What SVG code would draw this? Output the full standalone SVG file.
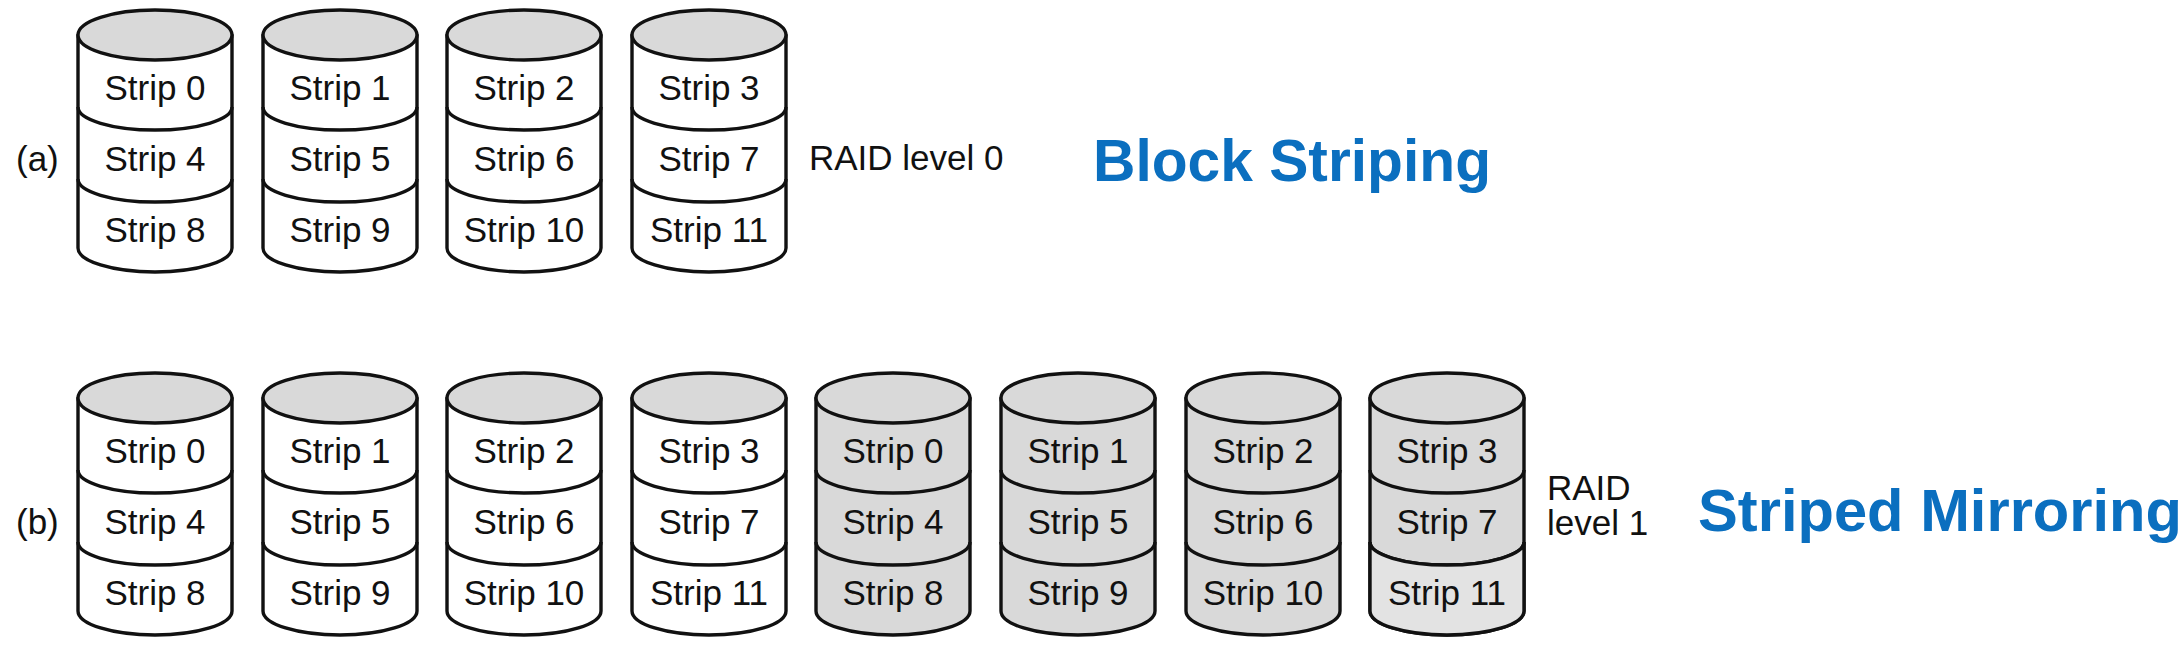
<svg xmlns="http://www.w3.org/2000/svg" xmlns:xlink="http://www.w3.org/1999/xlink" width="2184" height="646" viewBox="0 0 2184 646">
<style>
.s{font-family:"Liberation Sans",Arial,Helvetica,sans-serif;font-size:35px;fill:#111;text-anchor:middle}
.l{font-family:"Liberation Sans",Arial,Helvetica,sans-serif;font-size:35px;fill:#111}
.t{font-family:"Liberation Sans",Arial,Helvetica,sans-serif;font-size:60px;font-weight:bold;fill:#0B6FBF}
.ln{stroke:#111;stroke-width:3.4;stroke-linejoin:round}
</style>
<defs>
<g id="cyl" class="ln">
<path d="M-77,35 V248 A77,24 0 0 0 77,248 V35 Z"/>
<ellipse cx="0" cy="35" rx="77" ry="25" fill="#d9d9d9"/>
<path d="M-77,107 A77,23 0 0 0 77,107 M-77,179 A77,23 0 0 0 77,179" fill="none"/>
</g>
</defs>
<rect width="2184" height="646" fill="#fff"/>

<g id="row-a">
<text class="l" x="16" y="171">(a)</text>
<g id="a-disk0"><use xlink:href="#cyl" x="155" y="0" fill="#fff"/><text class="s" x="155" y="100">Strip 0</text><text class="s" x="155" y="171">Strip 4</text><text class="s" x="155" y="242">Strip 8</text></g>
<g id="a-disk1"><use xlink:href="#cyl" x="340" y="0" fill="#fff"/><text class="s" x="340" y="100">Strip 1</text><text class="s" x="340" y="171">Strip 5</text><text class="s" x="340" y="242">Strip 9</text></g>
<g id="a-disk2"><use xlink:href="#cyl" x="524" y="0" fill="#fff"/><text class="s" x="524" y="100">Strip 2</text><text class="s" x="524" y="171">Strip 6</text><text class="s" x="524" y="242">Strip 10</text></g>
<g id="a-disk3"><use xlink:href="#cyl" x="709" y="0" fill="#fff"/><text class="s" x="709" y="100">Strip 3</text><text class="s" x="709" y="171">Strip 7</text><text class="s" x="709" y="242">Strip 11</text></g>
<text class="l" x="809" y="170">RAID level 0</text>
<text class="t" x="1093" y="181" textLength="398" lengthAdjust="spacingAndGlyphs">Block Striping</text>
</g>

<g id="row-b">
<text class="l" x="16" y="534">(b)</text>
<g id="b-disk0"><use xlink:href="#cyl" x="155" y="363" fill="#fff"/><text class="s" x="155" y="463">Strip 0</text><text class="s" x="155" y="534">Strip 4</text><text class="s" x="155" y="605">Strip 8</text></g>
<g id="b-disk1"><use xlink:href="#cyl" x="340" y="363" fill="#fff"/><text class="s" x="340" y="463">Strip 1</text><text class="s" x="340" y="534">Strip 5</text><text class="s" x="340" y="605">Strip 9</text></g>
<g id="b-disk2"><use xlink:href="#cyl" x="524" y="363" fill="#fff"/><text class="s" x="524" y="463">Strip 2</text><text class="s" x="524" y="534">Strip 6</text><text class="s" x="524" y="605">Strip 10</text></g>
<g id="b-disk3"><use xlink:href="#cyl" x="709" y="363" fill="#fff"/><text class="s" x="709" y="463">Strip 3</text><text class="s" x="709" y="534">Strip 7</text><text class="s" x="709" y="605">Strip 11</text></g>
<g id="b-disk4"><use xlink:href="#cyl" x="893" y="363" fill="#d9d9d9"/><text class="s" x="893" y="463">Strip 0</text><text class="s" x="893" y="534">Strip 4</text><text class="s" x="893" y="605">Strip 8</text></g>
<g id="b-disk5"><use xlink:href="#cyl" x="1078" y="363" fill="#d9d9d9"/><text class="s" x="1078" y="463">Strip 1</text><text class="s" x="1078" y="534">Strip 5</text><text class="s" x="1078" y="605">Strip 9</text></g>
<g id="b-disk6"><use xlink:href="#cyl" x="1263" y="363" fill="#d9d9d9"/><text class="s" x="1263" y="463">Strip 2</text><text class="s" x="1263" y="534">Strip 6</text><text class="s" x="1263" y="605">Strip 10</text></g>
<g id="b-disk7"><use xlink:href="#cyl" x="1447" y="363" fill="#d9d9d9"/><path d="M1370,542 A77,23 0 0 0 1524,542 V611 A77,24 0 0 1 1370,611 Z" fill="#e3e3e3"/><path class="ln" d="M1370,542 A77,23 0 0 0 1524,542 M1370,542 V611 A77,24 0 0 0 1524,611 V542" fill="none"/><text class="s" x="1447" y="463">Strip 3</text><text class="s" x="1447" y="534">Strip 7</text><text class="s" x="1447" y="605">Strip 11</text></g>
<text class="l" x="1547" y="500">RAID</text>
<text class="l" x="1547" y="535">level 1</text>
<text class="t" x="1698" y="531" textLength="484" lengthAdjust="spacingAndGlyphs">Striped Mirroring</text>
</g>
</svg>
